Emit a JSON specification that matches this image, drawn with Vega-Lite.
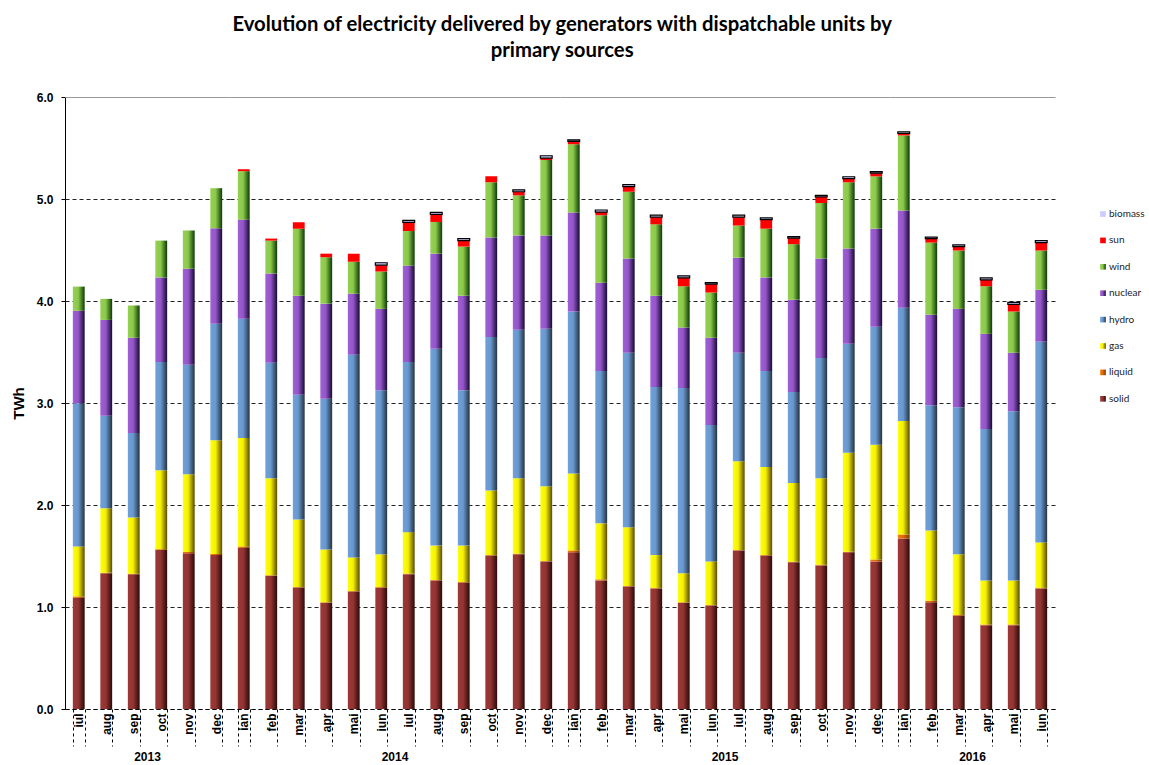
{
  "$schema": "https://vega.github.io/schema/vega-lite/v6.json",
  "background": "white",
  "padding": {"left": 11, "top": 14, "right": 0, "bottom": 0},
  "bounds": "flush",
  "title": {
    "text": ["Evolution of electricity delivered by generators with dispatchable units by", "primary sources"],
    "font": "Lato", "fontSize": 20.3, "fontWeight": "bold", "color": "black",
    "anchor": "middle", "offset": 30, "lineHeight": 26, "dx": -16
  },
  "data": {"values": [
    {"y":"2013","m":"iul","o":7,"solid":1.089,"liquid":0.015,"gas":0.490,"hydro":1.404,"nuclear":0.906,"wind":0.237,"sun":0,"biomass":0},
    {"y":"2013","m":"aug","o":8,"solid":1.330,"liquid":0.005,"gas":0.633,"hydro":0.906,"nuclear":0.941,"wind":0.206,"sun":0,"biomass":0},
    {"y":"2013","m":"sep","o":9,"solid":1.322,"liquid":0.005,"gas":0.551,"hydro":0.828,"nuclear":0.934,"wind":0.315,"sun":0,"biomass":0},
    {"y":"2013","m":"oct","o":10,"solid":1.559,"liquid":0.008,"gas":0.774,"hydro":1.061,"nuclear":0.829,"wind":0.361,"sun":0,"biomass":0},
    {"y":"2013","m":"nov","o":11,"solid":1.528,"liquid":0.012,"gas":0.762,"hydro":1.073,"nuclear":0.941,"wind":0.374,"sun":0,"biomass":0},
    {"y":"2013","m":"dec","o":12,"solid":1.509,"liquid":0.011,"gas":1.116,"hydro":1.140,"nuclear":0.937,"wind":0.393,"sun":0,"biomass":0},
    {"y":"2014","m":"ian","o":1,"solid":1.579,"liquid":0.015,"gas":1.062,"hydro":1.170,"nuclear":0.972,"wind":0.475,"sun":0.019,"biomass":0},
    {"y":"2014","m":"feb","o":2,"solid":1.307,"liquid":0.005,"gas":0.951,"hydro":1.132,"nuclear":0.875,"wind":0.322,"sun":0.020,"biomass":0},
    {"y":"2014","m":"mar","o":3,"solid":1.190,"liquid":0.005,"gas":0.664,"hydro":1.221,"nuclear":0.972,"wind":0.657,"sun":0.062,"biomass":0},
    {"y":"2014","m":"apr","o":4,"solid":1.042,"liquid":0.005,"gas":0.516,"hydro":1.478,"nuclear":0.933,"wind":0.455,"sun":0.035,"biomass":0},
    {"y":"2014","m":"mai","o":5,"solid":1.151,"liquid":0.005,"gas":0.329,"hydro":1.987,"nuclear":0.599,"wind":0.315,"sun":0.078,"biomass":0},
    {"y":"2014","m":"iun","o":6,"solid":1.190,"liquid":0.005,"gas":0.322,"hydro":1.609,"nuclear":0.797,"wind":0.366,"sun":0.062,"biomass":0.024},
    {"y":"2014","m":"iul","o":7,"solid":1.322,"liquid":0.005,"gas":0.407,"hydro":1.668,"nuclear":0.945,"wind":0.339,"sun":0.085,"biomass":0.020},
    {"y":"2014","m":"aug","o":8,"solid":1.260,"liquid":0.005,"gas":0.337,"hydro":1.929,"nuclear":0.933,"wind":0.311,"sun":0.074,"biomass":0.019},
    {"y":"2014","m":"sep","o":9,"solid":1.240,"liquid":0.005,"gas":0.357,"hydro":1.524,"nuclear":0.926,"wind":0.482,"sun":0.058,"biomass":0.020},
    {"y":"2014","m":"oct","o":10,"solid":1.505,"liquid":0.005,"gas":0.633,"hydro":1.504,"nuclear":0.976,"wind":0.541,"sun":0.058,"biomass":0},
    {"y":"2014","m":"nov","o":11,"solid":1.517,"liquid":0.005,"gas":0.741,"hydro":1.454,"nuclear":0.926,"wind":0.393,"sun":0.035,"biomass":0.019},
    {"y":"2014","m":"dec","o":12,"solid":1.447,"liquid":0.005,"gas":0.733,"hydro":1.544,"nuclear":0.914,"wind":0.739,"sun":0.019,"biomass":0.023},
    {"y":"2015","m":"ian","o":1,"solid":1.536,"liquid":0.019,"gas":0.755,"hydro":1.586,"nuclear":0.972,"wind":0.669,"sun":0.027,"biomass":0.016},
    {"y":"2015","m":"feb","o":2,"solid":1.260,"liquid":0.011,"gas":0.549,"hydro":1.493,"nuclear":0.867,"wind":0.661,"sun":0.031,"biomass":0.020},
    {"y":"2015","m":"mar","o":3,"solid":1.202,"liquid":0.005,"gas":0.574,"hydro":1.711,"nuclear":0.925,"wind":0.654,"sun":0.050,"biomass":0.020},
    {"y":"2015","m":"apr","o":4,"solid":1.182,"liquid":0.005,"gas":0.322,"hydro":1.648,"nuclear":0.895,"wind":0.700,"sun":0.070,"biomass":0.019},
    {"y":"2015","m":"mai","o":5,"solid":1.042,"liquid":0.005,"gas":0.283,"hydro":1.816,"nuclear":0.595,"wind":0.404,"sun":0.082,"biomass":0.019},
    {"y":"2015","m":"iun","o":6,"solid":1.015,"liquid":0.005,"gas":0.427,"hydro":1.337,"nuclear":0.856,"wind":0.443,"sun":0.082,"biomass":0.015},
    {"y":"2015","m":"iul","o":7,"solid":1.555,"liquid":0.005,"gas":0.870,"hydro":1.062,"nuclear":0.933,"wind":0.315,"sun":0.082,"biomass":0.019},
    {"y":"2015","m":"aug","o":8,"solid":1.505,"liquid":0.005,"gas":0.862,"hydro":0.941,"nuclear":0.918,"wind":0.478,"sun":0.089,"biomass":0.016},
    {"y":"2015","m":"sep","o":9,"solid":1.439,"liquid":0.005,"gas":0.772,"hydro":0.891,"nuclear":0.906,"wind":0.544,"sun":0.059,"biomass":0.015},
    {"y":"2015","m":"oct","o":10,"solid":1.408,"liquid":0.005,"gas":0.850,"hydro":1.178,"nuclear":0.976,"wind":0.545,"sun":0.058,"biomass":0.016},
    {"y":"2015","m":"nov","o":11,"solid":1.536,"liquid":0.005,"gas":0.971,"hydro":1.069,"nuclear":0.934,"wind":0.649,"sun":0.035,"biomass":0.019},
    {"y":"2015","m":"dec","o":12,"solid":1.447,"liquid":0.019,"gas":1.124,"hydro":1.158,"nuclear":0.961,"wind":0.513,"sun":0.031,"biomass":0.016},
    {"y":"2016","m":"ian","o":1,"solid":1.672,"liquid":0.039,"gas":1.112,"hydro":1.112,"nuclear":0.953,"wind":0.735,"sun":0.019,"biomass":0.016},
    {"y":"2016","m":"feb","o":2,"solid":1.046,"liquid":0.016,"gas":0.688,"hydro":1.229,"nuclear":0.886,"wind":0.708,"sun":0.039,"biomass":0.015},
    {"y":"2016","m":"mar","o":3,"solid":0.914,"liquid":0.008,"gas":0.595,"hydro":1.442,"nuclear":0.964,"wind":0.572,"sun":0.039,"biomass":0.016},
    {"y":"2016","m":"apr","o":4,"solid":0.820,"liquid":0.008,"gas":0.432,"hydro":1.485,"nuclear":0.933,"wind":0.467,"sun":0.062,"biomass":0.020},
    {"y":"2016","m":"mai","o":5,"solid":0.820,"liquid":0.008,"gas":0.432,"hydro":1.660,"nuclear":0.572,"wind":0.404,"sun":0.070,"biomass":0.020},
    {"y":"2016","m":"iun","o":6,"solid":1.182,"liquid":0.005,"gas":0.446,"hydro":1.968,"nuclear":0.509,"wind":0.385,"sun":0.078,"biomass":0.019}
  ]},
  "transform": [
    {"fold": ["solid","liquid","gas","hydro","nuclear","wind","sun","biomass"], "as": ["source","v"]},
    {"calculate": "indexof(['solid','liquid','gas','hydro','nuclear','wind','sun','biomass'], datum.source)", "as": "ord"}
  ],
  "facet": {
    "column": {
      "field": "y", "type": "ordinal", "title": null,
      "header": {"labelOrient": "bottom", "labelFont": "Liberation Sans", "labelFontSize": 12, "labelFontWeight": "bold", "labelColor": "black", "labelPadding": 43}
    }
  },
  "spacing": 0,
  "resolve": {"scale": {"x": "independent"}},
  "spec": {
    "width": {"step": 27.5},
    "height": 612,
    "mark": {"type": "bar", "strokeWidth": 1.2},
    "encoding": {
      "x": {
        "field": "m", "type": "ordinal", "sort": {"field": "o", "op": "min"}, "title": null,
        "scale": {"paddingInner": 0.57, "paddingOuter": 0.285},
        "axis": {
          "labelAngle": -90, "labelFont": "Liberation Sans", "labelFontSize": 12, "labelFontWeight": "bold", "labelColor": "black",
          "labelPadding": -33, "bandPosition": 0, "tickBand": "extent", "tickSize": 37, "tickColor": "black", "tickDash": [3, 3],
          "domainColor": "black", "domainDash": [4, 3], "grid": false
        }
      },
      "y": {
        "field": "v", "type": "quantitative", "stack": "zero", "title": "TWh",
        "scale": {"domain": [0, 6], "nice": false},
        "axis": {
          "values": [0, 1, 2, 3, 4, 5, 6], "format": ".1f",
          "labelFont": "Liberation Sans", "labelFontSize": 12, "labelFontWeight": "bold", "labelColor": "black", "labelPadding": 8,
          "tickSize": 4, "tickColor": "black", "domainColor": "black",
          "titleFont": "Liberation Sans", "titleFontSize": 15, "titleFontWeight": "bold", "titleColor": "black", "titlePadding": 10,
          "grid": true,
          "gridColor": {"condition": {"test": "datum.value === 6", "value": "#999999"}, "value": "#222222"},
          "gridDash": {"condition": {"test": "datum.value === 6", "value": []}, "value": [4, 3]}
        }
      },
      "color": {
        "field": "source", "type": "nominal", "title": null,
        "scale": {
          "domain": ["biomass","sun","wind","nuclear","hydro","gas","liquid","solid"],
          "range": [
            "#ccccff",
            "#ff0000",
            {"expr": "{gradient:'linear',stops:[{offset:0,color:'#94d052'},{offset:0.45,color:'#8cc84a'},{offset:1,color:'#0a3a05'}]}"},
            {"expr": "{gradient:'linear',stops:[{offset:0,color:'#9e60d4'},{offset:0.45,color:'#9455c8'},{offset:1,color:'#150a35'}]}"},
            {"expr": "{gradient:'linear',stops:[{offset:0,color:'#70a0d8'},{offset:0.45,color:'#6898cf'},{offset:1,color:'#243340'}]}"},
            {"expr": "{gradient:'linear',stops:[{offset:0,color:'#ffff10'},{offset:0.45,color:'#f5f000'},{offset:1,color:'#5a4a00'}]}"},
            {"expr": "{gradient:'linear',stops:[{offset:0,color:'#ee7a10'},{offset:0.45,color:'#e06a08'},{offset:1,color:'#7a3500'}]}"},
            {"expr": "{gradient:'linear',stops:[{offset:0,color:'#9c3836'},{offset:0.45,color:'#933533'},{offset:1,color:'#2a0a08'}]}"}
          ]
        },
        "legend": {
          "orient": "none", "legendX": 1033, "legendY": 112,
          "symbolType": "square", "symbolSize": 32, "rowPadding": 14.4,
          "labelFont": "Lato", "labelFontSize": 10, "labelColor": "#222222", "labelOffset": 1,
          "encode": {"symbols": {"update": {
            "stroke": [{"test": "datum.label === 'biomass'", "value": "black"}, {"value": "transparent"}],
            "strokeWidth": [{"test": "datum.label === 'biomass'", "value": 1.5}, {"value": 0}]
          }}}
        }
      },
      "order": {"field": "ord", "type": "quantitative"},
      "stroke": {"condition": {"test": "datum.source === 'biomass' && datum.v > 0", "value": "black"}, "value": "transparent"}
    }
  },
  "config": {"view": {"stroke": null}}
}
